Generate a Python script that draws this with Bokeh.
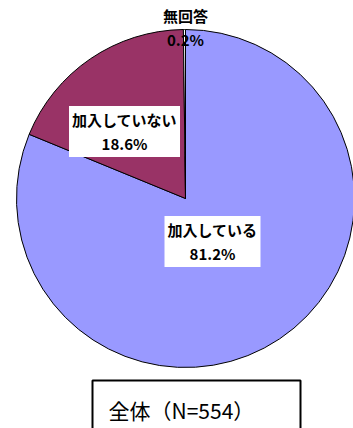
import math
from bokeh.plotting import figure
from bokeh.models import Range1d
from bokeh.core.properties import value
from bokeh.embed import file_html
from bokeh.resources import INLINE

# ---- data ----
categories = ["加入している", "加入していない", "無回答"]
shares = [81.2, 18.6, 0.2]
colors = ["#9999FF", "#993366", "#FFFFFF"]
title_text = "全体（N=554）"

W, H = 353, 428
p = figure(width=W, height=H, output_backend="svg", toolbar_location=None,
           x_range=Range1d(0, W), y_range=Range1d(0, H), min_border=0)
p.axis.visible = False
p.grid.visible = False
p.outline_line_color = None
p.background_fill_color = "white"
p.border_fill_color = "white"

cx, cy, r = 185, H - 198, 169
total = sum(shares)
starts, ends = [], []
acc = 0.0
for s in shares:
    starts.append(math.pi / 2 - acc / total * 2 * math.pi)
    acc += s
    ends.append(math.pi / 2 - acc / total * 2 * math.pi)

p.wedge(x=[cx] * len(shares), y=[cy] * len(shares), radius=r,
        start_angle=starts, end_angle=ends, direction="clock",
        fill_color=colors, line_color="black", line_width=1)

labels = [f"{c}\n{s:.1f}%" for c, s in zip(categories, shares)]
# label anchor positions (layout)
lx = [212, 124, 185]
ly = [H - 241, H - 131, H - 27]
bg = ["white", "white", None]
for i in range(3):
    p.text(x=[lx[i]], y=[ly[i]], text=[labels[i]], text_align="center",
           text_baseline="middle", text_font=value("Noto Sans CJK JP"),
           text_font_size="15px", text_font_style="bold", text_color="black",
           text_line_height=1.15,
           background_fill_color=bg[i], padding=3 if bg[i] else 0)

# title box
p.quad(left=[92], right=[300], top=[H - 380], bottom=[-20],
       fill_color=None, line_color="black", line_width=2)
p.text(x=[108], y=[H - 409], text=[title_text], text_align="left",
       text_baseline="middle", text_font=value("Noto Sans CJK JP"),
       text_font_size="21px", text_color="black")

open("out.html", "w").write(file_html(p, INLINE))
